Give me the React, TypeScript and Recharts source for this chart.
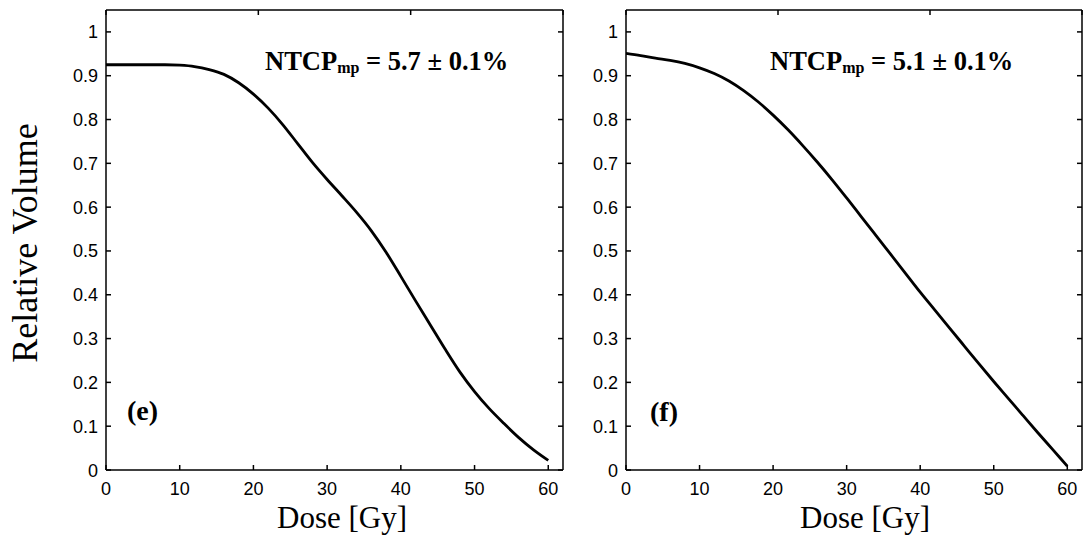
import React from "react";
import { LineChart, Line, XAxis, YAxis } from "recharts";

// Dose grid (Gy) shared by both DVH curves
const dose = [0, 2, 4, 6, 8, 10, 12, 14, 16, 18, 20, 22, 24, 26, 28, 30, 32, 34, 36, 38, 40, 42, 44, 46, 48, 50, 52, 54, 56, 58, 60];

// Panel (e) relative volume
const volumeE = [0.925, 0.925, 0.925, 0.925, 0.925, 0.924, 0.921, 0.914, 0.903, 0.884, 0.858, 0.826, 0.788, 0.745, 0.702, 0.663, 0.626, 0.588, 0.546, 0.497, 0.442, 0.386, 0.331, 0.276, 0.224, 0.179, 0.140, 0.106, 0.074, 0.046, 0.022];

// Panel (f) relative volume
const volumeF = [0.951, 0.946, 0.940, 0.935, 0.928, 0.918, 0.905, 0.888, 0.866, 0.840, 0.810, 0.777, 0.741, 0.703, 0.663, 0.621, 0.578, 0.535, 0.492, 0.449, 0.406, 0.365, 0.324, 0.283, 0.242, 0.202, 0.163, 0.124, 0.085, 0.047, 0.009];

const doseTicks = [0, 10, 20, 30, 40, 50, 60];
const volumeTicks = [0, 0.1, 0.2, 0.3, 0.4, 0.5, 0.6, 0.7, 0.8, 0.9, 1];

const dataE = dose.map((d, i) => ({ dose: d, v: volumeE[i] }));
const dataF = dose.map((d, i) => ({ dose: d, v: volumeF[i] }));

const TICK_FONT = "'Liberation Sans', Arial, sans-serif";
const SERIF = "'Liberation Serif', 'Times New Roman', serif";
const TICK_LEN = 5;

const BottomTick = (props: any) => {
  const { x, y, payload } = props;
  return (
    <g>
      <line x1={x} x2={x} y1={y} y2={y - TICK_LEN} stroke="#000" strokeWidth={1.5} />
      <text x={x} y={y + 25} textAnchor="middle" fontFamily={TICK_FONT} fontSize={18} fill="#000">
        {String(payload.value)}
      </text>
    </g>
  );
};

const LeftTick = (props: any) => {
  const { x, y, payload } = props;
  return (
    <g>
      <line x1={x} x2={x + TICK_LEN} y1={y} y2={y} stroke="#000" strokeWidth={1.5} />
      <text x={x - 8} y={y + 6.5} textAnchor="end" fontFamily={TICK_FONT} fontSize={18} fill="#000">
        {String(payload.value)}
      </text>
    </g>
  );
};

const TopTick = (props: any) => {
  const { x, y } = props;
  return <line x1={x} x2={x} y1={y} y2={y + TICK_LEN} stroke="#000" strokeWidth={1.5} />;
};

const RightTick = (props: any) => {
  const { x, y } = props;
  return <line x1={x} x2={x - TICK_LEN} y1={y} y2={y} stroke="#000" strokeWidth={1.5} />;
};

const axisLine = { stroke: "#000", strokeWidth: 1.5 };

type PanelProps = {
  data: { dose: number; v: number }[];
  width: number;
  yAxisWidth: number;
  marginRight: number;
};

const Panel = ({ data, width, yAxisWidth, marginRight }: PanelProps) => (
  <LineChart width={width} height={538} data={data} margin={{ top: 9, right: marginRight, bottom: 0, left: 0 }}>
    <XAxis
      dataKey="dose"
      type="number"
      domain={[0, 62]}
      ticks={doseTicks}
      interval={0}
      allowDataOverflow
      height={68}
      tickSize={0}
      tickMargin={0}
      tickLine={false}
      axisLine={axisLine}
      tick={<BottomTick />}
    />
    <XAxis
      xAxisId="top"
      orientation="top"
      type="number"
      domain={[0, 62]}
      ticks={doseTicks}
      interval={0}
      allowDataOverflow
      height={1}
      tickSize={0}
      tickMargin={0}
      tickLine={false}
      axisLine={axisLine}
      tick={<TopTick />}
    />
    <YAxis
      type="number"
      domain={[0, 1.05]}
      ticks={volumeTicks}
      interval={0}
      allowDataOverflow
      width={yAxisWidth}
      tickSize={0}
      tickMargin={0}
      tickLine={false}
      axisLine={axisLine}
      tick={<LeftTick />}
    />
    <YAxis
      yAxisId="right"
      orientation="right"
      type="number"
      domain={[0, 1.05]}
      ticks={volumeTicks}
      interval={0}
      allowDataOverflow
      width={1}
      tickSize={0}
      tickMargin={0}
      tickLine={false}
      axisLine={axisLine}
      tick={<RightTick />}
    />
    <Line
      dataKey="v"
      type="monotone"
      stroke="#000"
      strokeWidth={2.8}
      dot={false}
      activeDot={false}
      isAnimationActive={false}
    />
  </LineChart>
);

const Ntcp = ({ x, value }: { x: number; value: string }) => (
  <text x={x} y={70} fontFamily={SERIF} fontWeight="bold" fontSize={26.5} fill="#000">
    NTCP
    <tspan fontSize={16} dy={3}>mp</tspan>
    <tspan dy={-3}>{` = ${value} ± 0.1%`}</tspan>
  </text>
);

export default function App() {
  return (
    <div style={{ position: "absolute", left: 0, top: 0, width: 1083, height: 538, background: "#fff" }}>
      <div style={{ position: "absolute", left: 0, top: 0 }}>
        <Panel data={dataE} width={580} yAxisWidth={106} marginRight={16} />
      </div>
      <div style={{ position: "absolute", left: 580, top: 0 }}>
        <Panel data={dataF} width={503} yAxisWidth={46} marginRight={0} />
      </div>
      <svg
        width={1083}
        height={538}
        style={{ position: "absolute", left: 0, top: 0, pointerEvents: "none" }}
      >
        <Ntcp x={265} value="5.7" />
        <Ntcp x={770} value="5.1" />
        <text x={127} y={420} fontFamily={SERIF} fontWeight="bold" fontSize={28} fill="#000">(e)</text>
        <text x={650} y={421} fontFamily={SERIF} fontWeight="bold" fontSize={28} fill="#000">(f)</text>
        <text x={342} y={528} textAnchor="middle" fontFamily={SERIF} fontSize={31} fill="#000">Dose [Gy]</text>
        <text x={865} y={528} textAnchor="middle" fontFamily={SERIF} fontSize={31} fill="#000">Dose [Gy]</text>
        <text
          transform="translate(37,243) rotate(-90)"
          textAnchor="middle"
          fontFamily={SERIF}
          fontSize={36}
          fill="#000"
        >
          Relative Volume
        </text>
      </svg>
    </div>
  );
}
